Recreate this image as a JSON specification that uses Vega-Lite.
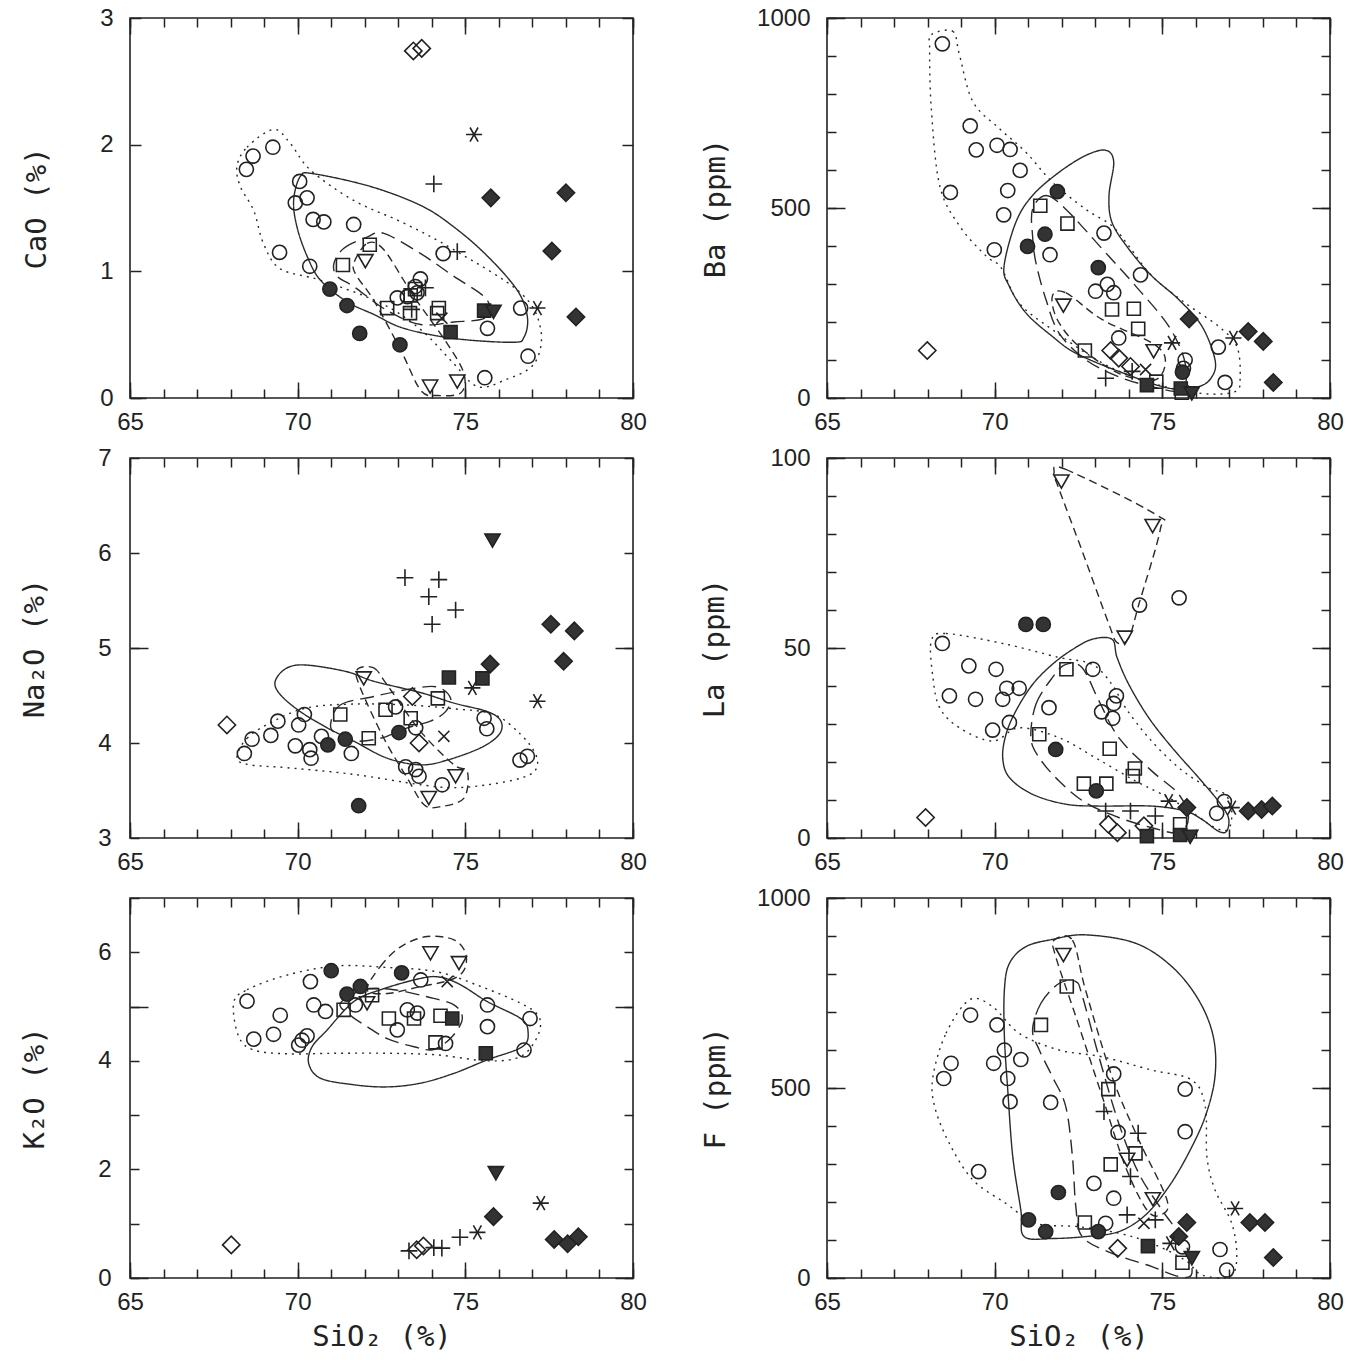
{
"$schema": "https://vega.github.io/schema/vega-lite/v6.json",
"background": "white",
"padding": {"left": 19, "top": 5, "right": 5, "bottom": 5},
"datasets": {
"pts": [
{"p":"CaO","s":"od","x":73.45,"y":2.74},{"p":"CaO","s":"od","x":73.7,"y":2.76},
{"p":"CaO","s":"as","x":75.26,"y":2.08},{"p":"CaO","s":"as","x":77.15,"y":0.71},
{"p":"CaO","s":"pl","x":74.06,"y":1.69},{"p":"CaO","s":"pl","x":74.76,"y":1.155},{"p":"CaO","s":"pl","x":73.81,"y":0.87},{"p":"CaO","s":"pl","x":73.4,"y":0.7},
{"p":"CaO","s":"fd","x":75.76,"y":1.58},{"p":"CaO","s":"fd","x":78.0,"y":1.62},{"p":"CaO","s":"fd","x":77.58,"y":1.16},{"p":"CaO","s":"fd","x":78.3,"y":0.64},
{"p":"CaO","s":"oc","x":68.47,"y":1.805},{"p":"CaO","s":"oc","x":68.67,"y":1.91},{"p":"CaO","s":"oc","x":69.26,"y":1.98},{"p":"CaO","s":"oc","x":70.06,"y":1.71},{"p":"CaO","s":"oc","x":70.28,"y":1.58},{"p":"CaO","s":"oc","x":69.93,"y":1.54},{"p":"CaO","s":"oc","x":70.46,"y":1.41},{"p":"CaO","s":"oc","x":70.78,"y":1.39},{"p":"CaO","s":"oc","x":71.67,"y":1.37},{"p":"CaO","s":"oc","x":69.46,"y":1.15},{"p":"CaO","s":"oc","x":70.36,"y":1.04},{"p":"CaO","s":"oc","x":74.34,"y":1.14},{"p":"CaO","s":"oc","x":73.66,"y":0.94},{"p":"CaO","s":"oc","x":73.51,"y":0.88},{"p":"CaO","s":"oc","x":72.97,"y":0.79},{"p":"CaO","s":"oc","x":73.27,"y":0.8},{"p":"CaO","s":"oc","x":73.56,"y":0.83},{"p":"CaO","s":"oc","x":75.66,"y":0.55},{"p":"CaO","s":"oc","x":76.65,"y":0.71},{"p":"CaO","s":"oc","x":76.87,"y":0.33},{"p":"CaO","s":"oc","x":75.58,"y":0.16},
{"p":"CaO","s":"fc","x":70.96,"y":0.86},{"p":"CaO","s":"fc","x":71.47,"y":0.73},{"p":"CaO","s":"fc","x":71.85,"y":0.51},{"p":"CaO","s":"fc","x":73.05,"y":0.42},
{"p":"CaO","s":"os","x":72.15,"y":1.21},{"p":"CaO","s":"os","x":71.35,"y":1.05},{"p":"CaO","s":"os","x":72.67,"y":0.71},{"p":"CaO","s":"os","x":73.35,"y":0.67},{"p":"CaO","s":"os","x":73.37,"y":0.81},{"p":"CaO","s":"os","x":74.21,"y":0.71},{"p":"CaO","s":"os","x":74.16,"y":0.67},{"p":"CaO","s":"os","x":73.5,"y":0.86},
{"p":"CaO","s":"fs","x":74.56,"y":0.52},{"p":"CaO","s":"fs","x":75.56,"y":0.69},
{"p":"CaO","s":"ft","x":75.84,"y":0.68},
{"p":"CaO","s":"ot","x":72.02,"y":1.08},{"p":"CaO","s":"ot","x":73.95,"y":0.09},{"p":"CaO","s":"ot","x":74.76,"y":0.13},
{"p":"CaO","s":"xx","x":74.3,"y":0.63},

{"p":"Ba","s":"oc","x":68.44,"y":932},{"p":"Ba","s":"oc","x":69.27,"y":716},{"p":"Ba","s":"oc","x":69.45,"y":653},{"p":"Ba","s":"oc","x":70.07,"y":665},{"p":"Ba","s":"oc","x":70.46,"y":654},{"p":"Ba","s":"oc","x":70.76,"y":599},{"p":"Ba","s":"oc","x":68.68,"y":541},{"p":"Ba","s":"oc","x":70.39,"y":546},{"p":"Ba","s":"oc","x":70.27,"y":482},{"p":"Ba","s":"oc","x":69.99,"y":390},{"p":"Ba","s":"oc","x":71.65,"y":377},{"p":"Ba","s":"oc","x":73.26,"y":434},{"p":"Ba","s":"oc","x":73.01,"y":281},{"p":"Ba","s":"oc","x":73.36,"y":299},{"p":"Ba","s":"oc","x":73.55,"y":277},{"p":"Ba","s":"oc","x":74.35,"y":324},{"p":"Ba","s":"oc","x":73.7,"y":158},{"p":"Ba","s":"oc","x":75.68,"y":100},{"p":"Ba","s":"oc","x":75.63,"y":78},{"p":"Ba","s":"oc","x":76.67,"y":134},{"p":"Ba","s":"oc","x":76.87,"y":41},
{"p":"Ba","s":"fc","x":71.87,"y":543},{"p":"Ba","s":"fc","x":71.5,"y":431},{"p":"Ba","s":"fc","x":70.98,"y":399},{"p":"Ba","s":"fc","x":73.09,"y":343},{"p":"Ba","s":"fc","x":75.6,"y":68},
{"p":"Ba","s":"os","x":71.36,"y":506},{"p":"Ba","s":"os","x":72.17,"y":459},{"p":"Ba","s":"os","x":73.5,"y":233},{"p":"Ba","s":"os","x":74.15,"y":235},{"p":"Ba","s":"os","x":74.28,"y":182},{"p":"Ba","s":"os","x":72.69,"y":125},{"p":"Ba","s":"os","x":74.82,"y":43},{"p":"Ba","s":"os","x":75.58,"y":14},
{"p":"Ba","s":"fs","x":74.54,"y":34},{"p":"Ba","s":"fs","x":75.55,"y":25},
{"p":"Ba","s":"ft","x":75.88,"y":12},
{"p":"Ba","s":"ot","x":72.05,"y":243},{"p":"Ba","s":"ot","x":74.74,"y":123},
{"p":"Ba","s":"od","x":67.99,"y":125},{"p":"Ba","s":"od","x":73.46,"y":125},{"p":"Ba","s":"od","x":73.7,"y":105},{"p":"Ba","s":"od","x":74.05,"y":83},
{"p":"Ba","s":"pl","x":73.31,"y":52},{"p":"Ba","s":"pl","x":74.1,"y":70},
{"p":"Ba","s":"as","x":75.29,"y":145},{"p":"Ba","s":"as","x":77.12,"y":158},
{"p":"Ba","s":"xx","x":74.5,"y":75},
{"p":"Ba","s":"fd","x":75.8,"y":208},{"p":"Ba","s":"fd","x":77.56,"y":175},{"p":"Ba","s":"fd","x":78.01,"y":149},{"p":"Ba","s":"fd","x":78.31,"y":41},

{"p":"Na","s":"ft","x":75.81,"y":6.13},
{"p":"Na","s":"pl","x":73.2,"y":5.74},{"p":"Na","s":"pl","x":74.21,"y":5.72},{"p":"Na","s":"pl","x":73.91,"y":5.54},{"p":"Na","s":"pl","x":74.71,"y":5.4},{"p":"Na","s":"pl","x":74.01,"y":5.25},
{"p":"Na","s":"fd","x":77.55,"y":5.25},{"p":"Na","s":"fd","x":78.25,"y":5.18},{"p":"Na","s":"fd","x":77.93,"y":4.86},{"p":"Na","s":"fd","x":75.74,"y":4.83},
{"p":"Na","s":"fs","x":74.51,"y":4.69},{"p":"Na","s":"fs","x":75.51,"y":4.68},
{"p":"Na","s":"as","x":75.21,"y":4.58},{"p":"Na","s":"as","x":77.15,"y":4.44},
{"p":"Na","s":"ot","x":71.97,"y":4.68},{"p":"Na","s":"ot","x":74.71,"y":3.65},{"p":"Na","s":"ot","x":73.91,"y":3.42},
{"p":"Na","s":"od","x":67.89,"y":4.19},{"p":"Na","s":"od","x":73.42,"y":4.49},{"p":"Na","s":"od","x":73.62,"y":4.0},
{"p":"Na","s":"os","x":74.18,"y":4.47},{"p":"Na","s":"os","x":71.27,"y":4.3},{"p":"Na","s":"os","x":72.62,"y":4.35},{"p":"Na","s":"os","x":73.37,"y":4.26},{"p":"Na","s":"os","x":72.12,"y":4.05},
{"p":"Na","s":"xx","x":74.36,"y":4.07},
{"p":"Na","s":"oc","x":68.41,"y":3.89},{"p":"Na","s":"oc","x":68.64,"y":4.04},{"p":"Na","s":"oc","x":69.2,"y":4.08},{"p":"Na","s":"oc","x":69.41,"y":4.23},{"p":"Na","s":"oc","x":70.03,"y":4.19},{"p":"Na","s":"oc","x":70.2,"y":4.3},{"p":"Na","s":"oc","x":69.93,"y":3.97},{"p":"Na","s":"oc","x":70.36,"y":3.93},{"p":"Na","s":"oc","x":70.4,"y":3.84},{"p":"Na","s":"oc","x":70.71,"y":4.07},{"p":"Na","s":"oc","x":71.6,"y":3.89},{"p":"Na","s":"oc","x":72.92,"y":4.38},{"p":"Na","s":"oc","x":73.52,"y":4.16},{"p":"Na","s":"oc","x":73.22,"y":3.75},{"p":"Na","s":"oc","x":73.52,"y":3.72},{"p":"Na","s":"oc","x":73.62,"y":3.65},{"p":"Na","s":"oc","x":74.31,"y":3.56},{"p":"Na","s":"oc","x":75.56,"y":4.26},{"p":"Na","s":"oc","x":75.64,"y":4.15},{"p":"Na","s":"oc","x":76.63,"y":3.82},{"p":"Na","s":"oc","x":76.85,"y":3.86},
{"p":"Na","s":"fc","x":70.9,"y":3.98},{"p":"Na","s":"fc","x":71.42,"y":4.04},{"p":"Na","s":"fc","x":73.02,"y":4.11},{"p":"Na","s":"fc","x":71.82,"y":3.34},

{"p":"La","s":"ot","x":71.99,"y":93.8},{"p":"La","s":"ot","x":74.71,"y":82.1},{"p":"La","s":"ot","x":73.88,"y":52.7},
{"p":"La","s":"oc","x":74.32,"y":61.3},{"p":"La","s":"oc","x":75.5,"y":63.2},{"p":"La","s":"oc","x":68.44,"y":51.2},{"p":"La","s":"oc","x":69.23,"y":45.3},{"p":"La","s":"oc","x":70.04,"y":44.4},{"p":"La","s":"oc","x":70.36,"y":39.4},{"p":"La","s":"oc","x":70.73,"y":39.4},{"p":"La","s":"oc","x":68.65,"y":37.4},{"p":"La","s":"oc","x":69.43,"y":36.5},{"p":"La","s":"oc","x":70.24,"y":36.5},{"p":"La","s":"oc","x":69.94,"y":28.4},{"p":"La","s":"oc","x":70.44,"y":30.4},{"p":"La","s":"oc","x":71.62,"y":34.3},{"p":"La","s":"oc","x":72.93,"y":44.4},{"p":"La","s":"oc","x":73.63,"y":37.4},{"p":"La","s":"oc","x":73.55,"y":35.4},{"p":"La","s":"oc","x":73.19,"y":33.2},{"p":"La","s":"oc","x":73.52,"y":31.5},{"p":"La","s":"oc","x":76.85,"y":9.6},{"p":"La","s":"oc","x":76.62,"y":6.5},
{"p":"La","s":"fc","x":70.93,"y":56.2},{"p":"La","s":"fc","x":71.45,"y":56.2},{"p":"La","s":"fc","x":71.82,"y":23.3},{"p":"La","s":"fc","x":73.03,"y":12.4},
{"p":"La","s":"os","x":72.14,"y":44.4},{"p":"La","s":"os","x":71.33,"y":27.3},{"p":"La","s":"os","x":73.43,"y":23.5},{"p":"La","s":"os","x":74.18,"y":18.3},{"p":"La","s":"os","x":74.12,"y":16.3},{"p":"La","s":"os","x":72.66,"y":14.3},{"p":"La","s":"os","x":73.33,"y":14.3},{"p":"La","s":"os","x":75.53,"y":3.6},
{"p":"La","s":"fs","x":74.54,"y":0.5},{"p":"La","s":"fs","x":75.53,"y":0.8},
{"p":"La","s":"ft","x":75.83,"y":0.3},
{"p":"La","s":"od","x":67.94,"y":5.4},{"p":"La","s":"od","x":73.39,"y":3.6},{"p":"La","s":"od","x":73.66,"y":1.4},{"p":"La","s":"od","x":74.45,"y":3.2},
{"p":"La","s":"pl","x":73.31,"y":7.1},{"p":"La","s":"pl","x":74.05,"y":7.1},{"p":"La","s":"pl","x":74.79,"y":5.8},
{"p":"La","s":"as","x":75.19,"y":9.7},{"p":"La","s":"as","x":77.07,"y":8.0},
{"p":"La","s":"fd","x":75.73,"y":8.0},{"p":"La","s":"fd","x":77.56,"y":7.1},{"p":"La","s":"fd","x":77.96,"y":7.5},{"p":"La","s":"fd","x":78.28,"y":8.4},

{"p":"K","s":"ot","x":73.96,"y":5.98},{"p":"K","s":"ot","x":74.81,"y":5.8},{"p":"K","s":"ot","x":72.07,"y":5.06},
{"p":"K","s":"fc","x":71.0,"y":5.66},{"p":"K","s":"fc","x":73.1,"y":5.62},{"p":"K","s":"fc","x":71.87,"y":5.37},{"p":"K","s":"fc","x":71.47,"y":5.23},
{"p":"K","s":"xx","x":74.46,"y":5.46},
{"p":"K","s":"oc","x":70.38,"y":5.46},{"p":"K","s":"oc","x":68.49,"y":5.1},{"p":"K","s":"oc","x":70.48,"y":5.03},{"p":"K","s":"oc","x":70.83,"y":4.91},{"p":"K","s":"oc","x":71.72,"y":5.03},{"p":"K","s":"oc","x":69.48,"y":4.84},{"p":"K","s":"oc","x":68.69,"y":4.4},{"p":"K","s":"oc","x":69.28,"y":4.49},{"p":"K","s":"oc","x":70.28,"y":4.46},{"p":"K","s":"oc","x":70.13,"y":4.38},{"p":"K","s":"oc","x":70.03,"y":4.29},{"p":"K","s":"oc","x":73.67,"y":5.49},{"p":"K","s":"oc","x":72.97,"y":4.57},{"p":"K","s":"oc","x":73.27,"y":4.94},{"p":"K","s":"oc","x":73.57,"y":4.88},{"p":"K","s":"oc","x":75.66,"y":5.03},{"p":"K","s":"oc","x":75.66,"y":4.63},{"p":"K","s":"oc","x":76.93,"y":4.78},{"p":"K","s":"oc","x":76.75,"y":4.2},{"p":"K","s":"oc","x":74.41,"y":4.32},
{"p":"K","s":"os","x":72.22,"y":5.21},{"p":"K","s":"os","x":71.37,"y":4.94},{"p":"K","s":"os","x":72.72,"y":4.78},{"p":"K","s":"os","x":73.47,"y":4.78},{"p":"K","s":"os","x":74.26,"y":4.83},{"p":"K","s":"os","x":74.11,"y":4.34},
{"p":"K","s":"fs","x":74.61,"y":4.78},{"p":"K","s":"fs","x":75.61,"y":4.14},
{"p":"K","s":"ft","x":75.91,"y":1.93},
{"p":"K","s":"as","x":77.25,"y":1.38},{"p":"K","s":"as","x":75.36,"y":0.84},
{"p":"K","s":"fd","x":75.84,"y":1.13},{"p":"K","s":"fd","x":77.65,"y":0.71},{"p":"K","s":"fd","x":78.05,"y":0.63},{"p":"K","s":"fd","x":78.37,"y":0.76},
{"p":"K","s":"pl","x":74.84,"y":0.75},{"p":"K","s":"pl","x":74.06,"y":0.56},{"p":"K","s":"pl","x":74.3,"y":0.55},{"p":"K","s":"pl","x":73.32,"y":0.5},
{"p":"K","s":"od","x":73.75,"y":0.59},{"p":"K","s":"od","x":73.55,"y":0.52},{"p":"K","s":"od","x":68.02,"y":0.61},

{"p":"F","s":"ot","x":72.05,"y":850},{"p":"F","s":"ot","x":73.95,"y":311},{"p":"F","s":"ot","x":74.72,"y":207},
{"p":"F","s":"os","x":72.15,"y":767},{"p":"F","s":"os","x":71.38,"y":666},{"p":"F","s":"os","x":73.39,"y":497},{"p":"F","s":"os","x":74.2,"y":328},{"p":"F","s":"os","x":73.46,"y":299},{"p":"F","s":"os","x":72.69,"y":146},{"p":"F","s":"os","x":75.6,"y":40},
{"p":"F","s":"oc","x":69.28,"y":692},{"p":"F","s":"oc","x":70.07,"y":666},{"p":"F","s":"oc","x":70.29,"y":600},{"p":"F","s":"oc","x":69.97,"y":565},{"p":"F","s":"oc","x":70.78,"y":575},{"p":"F","s":"oc","x":68.7,"y":565},{"p":"F","s":"oc","x":68.48,"y":525},{"p":"F","s":"oc","x":70.39,"y":525},{"p":"F","s":"oc","x":70.46,"y":464},{"p":"F","s":"oc","x":71.67,"y":462},{"p":"F","s":"oc","x":73.55,"y":537},{"p":"F","s":"oc","x":75.68,"y":497},{"p":"F","s":"oc","x":75.68,"y":385},{"p":"F","s":"oc","x":73.68,"y":383},{"p":"F","s":"oc","x":69.52,"y":280},{"p":"F","s":"oc","x":72.96,"y":249},{"p":"F","s":"oc","x":73.55,"y":210},{"p":"F","s":"oc","x":73.31,"y":144},{"p":"F","s":"oc","x":75.6,"y":82},{"p":"F","s":"oc","x":76.72,"y":75},{"p":"F","s":"oc","x":76.92,"y":21},
{"p":"F","s":"pl","x":73.26,"y":438},{"p":"F","s":"pl","x":74.28,"y":381},{"p":"F","s":"pl","x":74.05,"y":267},{"p":"F","s":"pl","x":73.95,"y":166},{"p":"F","s":"pl","x":74.79,"y":153},
{"p":"F","s":"xx","x":74.45,"y":144},
{"p":"F","s":"as","x":75.24,"y":91},{"p":"F","s":"as","x":77.17,"y":183},
{"p":"F","s":"fc","x":71.9,"y":225},{"p":"F","s":"fc","x":71.01,"y":153},{"p":"F","s":"fc","x":71.52,"y":122},{"p":"F","s":"fc","x":73.09,"y":122},
{"p":"F","s":"od","x":73.67,"y":78},
{"p":"F","s":"fs","x":74.57,"y":84},
{"p":"F","s":"fd","x":75.73,"y":146},{"p":"F","s":"fd","x":75.49,"y":109},{"p":"F","s":"fd","x":77.61,"y":146},{"p":"F","s":"fd","x":78.06,"y":146},{"p":"F","s":"fd","x":78.31,"y":54},
{"p":"F","s":"ft","x":75.88,"y":52}
],
"env": [
{"p":"CaO","e":"dot","o":1,"x":68.19,"y":1.83},{"p":"CaO","e":"dot","o":2,"x":68.49,"y":1.98},{"p":"CaO","e":"dot","o":3,"x":69.28,"y":2.12},{"p":"CaO","e":"dot","o":4,"x":69.78,"y":2.01},{"p":"CaO","e":"dot","o":5,"x":70.38,"y":1.8},{"p":"CaO","e":"dot","o":6,"x":71.67,"y":1.56},{"p":"CaO","e":"dot","o":7,"x":73.17,"y":1.38},{"p":"CaO","e":"dot","o":8,"x":74.66,"y":1.17},{"p":"CaO","e":"dot","o":9,"x":76.65,"y":0.83},{"p":"CaO","e":"dot","o":10,"x":77.25,"y":0.54},{"p":"CaO","e":"dot","o":11,"x":77.05,"y":0.27},{"p":"CaO","e":"dot","o":12,"x":76.16,"y":0.14},{"p":"CaO","e":"dot","o":13,"x":75.36,"y":0.09},{"p":"CaO","e":"dot","o":14,"x":74.66,"y":0.27},{"p":"CaO","e":"dot","o":15,"x":73.67,"y":0.54},{"p":"CaO","e":"dot","o":16,"x":72.47,"y":0.75},{"p":"CaO","e":"dot","o":17,"x":70.68,"y":0.93},{"p":"CaO","e":"dot","o":18,"x":69.48,"y":1.02},{"p":"CaO","e":"dot","o":19,"x":68.98,"y":1.22},{"p":"CaO","e":"dot","o":20,"x":68.69,"y":1.48},{"p":"CaO","e":"dot","o":21,"x":68.29,"y":1.67},
{"p":"CaO","e":"sol","o":1,"x":70.08,"y":1.75},{"p":"CaO","e":"sol","o":2,"x":70.48,"y":1.77},{"p":"CaO","e":"sol","o":3,"x":72.17,"y":1.67},{"p":"CaO","e":"sol","o":4,"x":73.67,"y":1.52},{"p":"CaO","e":"sol","o":5,"x":74.66,"y":1.35},{"p":"CaO","e":"sol","o":6,"x":75.66,"y":1.12},{"p":"CaO","e":"sol","o":7,"x":76.55,"y":0.85},{"p":"CaO","e":"sol","o":8,"x":76.85,"y":0.64},{"p":"CaO","e":"sol","o":9,"x":76.75,"y":0.48},{"p":"CaO","e":"sol","o":10,"x":76.4,"y":0.44},{"p":"CaO","e":"sol","o":11,"x":74.66,"y":0.47},{"p":"CaO","e":"sol","o":12,"x":73.17,"y":0.55},{"p":"CaO","e":"sol","o":13,"x":72.27,"y":0.66},{"p":"CaO","e":"sol","o":14,"x":71.47,"y":0.76},{"p":"CaO","e":"sol","o":15,"x":70.68,"y":0.93},{"p":"CaO","e":"sol","o":16,"x":70.28,"y":1.12},{"p":"CaO","e":"sol","o":17,"x":69.98,"y":1.35},{"p":"CaO","e":"sol","o":18,"x":69.88,"y":1.56},
{"p":"CaO","e":"dsh","o":1,"x":71.08,"y":1.06},{"p":"CaO","e":"dsh","o":2,"x":71.37,"y":1.18},{"p":"CaO","e":"dsh","o":3,"x":72.07,"y":1.27},{"p":"CaO","e":"dsh","o":4,"x":72.57,"y":1.3},{"p":"CaO","e":"dsh","o":5,"x":73.67,"y":1.14},{"p":"CaO","e":"dsh","o":6,"x":74.66,"y":0.96},{"p":"CaO","e":"dsh","o":7,"x":75.56,"y":0.8},{"p":"CaO","e":"dsh","o":8,"x":75.76,"y":0.68},{"p":"CaO","e":"dsh","o":9,"x":75.46,"y":0.62},{"p":"CaO","e":"dsh","o":10,"x":74.66,"y":0.6},{"p":"CaO","e":"dsh","o":11,"x":73.67,"y":0.58},{"p":"CaO","e":"dsh","o":12,"x":72.67,"y":0.69},{"p":"CaO","e":"dsh","o":13,"x":71.67,"y":0.88},{"p":"CaO","e":"dsh","o":14,"x":71.18,"y":0.96},
{"p":"CaO","e":"tri","o":1,"x":71.67,"y":1.06},{"p":"CaO","e":"tri","o":2,"x":72.07,"y":1.22},{"p":"CaO","e":"tri","o":3,"x":72.57,"y":1.17},{"p":"CaO","e":"tri","o":4,"x":73.47,"y":0.8},{"p":"CaO","e":"tri","o":5,"x":74.46,"y":0.43},{"p":"CaO","e":"tri","o":6,"x":74.96,"y":0.19},{"p":"CaO","e":"tri","o":7,"x":74.86,"y":0.04},{"p":"CaO","e":"tri","o":8,"x":74.16,"y":0.02},{"p":"CaO","e":"tri","o":9,"x":73.67,"y":0.06},{"p":"CaO","e":"tri","o":10,"x":73.07,"y":0.38},{"p":"CaO","e":"tri","o":11,"x":72.27,"y":0.77},{"p":"CaO","e":"tri","o":12,"x":71.77,"y":0.96},

{"p":"Ba","e":"dot","o":1,"x":68.11,"y":956},{"p":"Ba","e":"dot","o":2,"x":68.75,"y":965},{"p":"Ba","e":"dot","o":3,"x":68.95,"y":903},{"p":"Ba","e":"dot","o":4,"x":69.35,"y":780},{"p":"Ba","e":"dot","o":5,"x":70.14,"y":709},{"p":"Ba","e":"dot","o":6,"x":70.93,"y":647},{"p":"Ba","e":"dot","o":7,"x":71.72,"y":568},{"p":"Ba","e":"dot","o":8,"x":72.71,"y":497},{"p":"Ba","e":"dot","o":9,"x":73.5,"y":453},{"p":"Ba","e":"dot","o":10,"x":74.0,"y":400},{"p":"Ba","e":"dot","o":11,"x":74.69,"y":321},{"p":"Ba","e":"dot","o":12,"x":75.68,"y":250},{"p":"Ba","e":"dot","o":13,"x":76.67,"y":189},{"p":"Ba","e":"dot","o":14,"x":77.22,"y":136},{"p":"Ba","e":"dot","o":15,"x":77.32,"y":56},{"p":"Ba","e":"dot","o":16,"x":77.17,"y":17},{"p":"Ba","e":"dot","o":17,"x":76.18,"y":12},{"p":"Ba","e":"dot","o":18,"x":74.69,"y":39},{"p":"Ba","e":"dot","o":19,"x":73.21,"y":92},{"p":"Ba","e":"dot","o":20,"x":71.72,"y":180},{"p":"Ba","e":"dot","o":21,"x":70.73,"y":250},{"p":"Ba","e":"dot","o":22,"x":70.19,"y":343},{"p":"Ba","e":"dot","o":23,"x":69.74,"y":374},{"p":"Ba","e":"dot","o":24,"x":68.95,"y":453},{"p":"Ba","e":"dot","o":25,"x":68.36,"y":559},{"p":"Ba","e":"dot","o":26,"x":68.11,"y":762},{"p":"Ba","e":"dot","o":27,"x":68.06,"y":921},
{"p":"Ba","e":"sol","o":1,"x":70.63,"y":462},{"p":"Ba","e":"sol","o":2,"x":71.13,"y":533},{"p":"Ba","e":"sol","o":3,"x":71.92,"y":594},{"p":"Ba","e":"sol","o":4,"x":72.71,"y":638},{"p":"Ba","e":"sol","o":5,"x":73.31,"y":652},{"p":"Ba","e":"sol","o":6,"x":73.55,"y":621},{"p":"Ba","e":"sol","o":7,"x":73.41,"y":533},{"p":"Ba","e":"sol","o":8,"x":73.5,"y":462},{"p":"Ba","e":"sol","o":9,"x":74.0,"y":392},{"p":"Ba","e":"sol","o":10,"x":74.69,"y":321},{"p":"Ba","e":"sol","o":11,"x":75.49,"y":259},{"p":"Ba","e":"sol","o":12,"x":76.18,"y":189},{"p":"Ba","e":"sol","o":13,"x":76.57,"y":101},{"p":"Ba","e":"sol","o":14,"x":76.48,"y":56},{"p":"Ba","e":"sol","o":15,"x":76.08,"y":30},{"p":"Ba","e":"sol","o":16,"x":75.19,"y":26},{"p":"Ba","e":"sol","o":17,"x":73.7,"y":70},{"p":"Ba","e":"sol","o":18,"x":72.42,"y":118},{"p":"Ba","e":"sol","o":19,"x":71.72,"y":162},{"p":"Ba","e":"sol","o":20,"x":70.93,"y":224},{"p":"Ba","e":"sol","o":21,"x":70.43,"y":295},{"p":"Ba","e":"sol","o":22,"x":70.28,"y":347},
{"p":"Ba","e":"dsh","o":1,"x":71.13,"y":497},{"p":"Ba","e":"dsh","o":2,"x":71.53,"y":533},{"p":"Ba","e":"dsh","o":3,"x":72.12,"y":497},{"p":"Ba","e":"dsh","o":4,"x":73.21,"y":392},{"p":"Ba","e":"dsh","o":5,"x":74.2,"y":295},{"p":"Ba","e":"dsh","o":6,"x":75.19,"y":189},{"p":"Ba","e":"dsh","o":7,"x":75.68,"y":92},{"p":"Ba","e":"dsh","o":8,"x":75.58,"y":21},{"p":"Ba","e":"dsh","o":9,"x":74.69,"y":30},{"p":"Ba","e":"dsh","o":10,"x":73.7,"y":56},{"p":"Ba","e":"dsh","o":11,"x":72.71,"y":101},{"p":"Ba","e":"dsh","o":12,"x":71.92,"y":171},{"p":"Ba","e":"dsh","o":13,"x":71.53,"y":259},{"p":"Ba","e":"dsh","o":14,"x":71.23,"y":356},{"p":"Ba","e":"dsh","o":15,"x":71.13,"y":427},
{"p":"Ba","e":"tri","o":1,"x":71.72,"y":268},{"p":"Ba","e":"tri","o":2,"x":72.12,"y":277},{"p":"Ba","e":"tri","o":3,"x":73.21,"y":206},{"p":"Ba","e":"tri","o":4,"x":74.69,"y":145},{"p":"Ba","e":"tri","o":5,"x":75.09,"y":101},{"p":"Ba","e":"tri","o":6,"x":74.79,"y":48},{"p":"Ba","e":"tri","o":7,"x":73.7,"y":65},{"p":"Ba","e":"tri","o":8,"x":72.51,"y":136},{"p":"Ba","e":"tri","o":9,"x":71.87,"y":206},

{"p":"Na","e":"dot","o":1,"x":68.19,"y":3.84},{"p":"Na","e":"dot","o":2,"x":68.49,"y":4.05},{"p":"Na","e":"dot","o":3,"x":69.28,"y":4.23},{"p":"Na","e":"dot","o":4,"x":70.28,"y":4.37},{"p":"Na","e":"dot","o":5,"x":71.67,"y":4.41},{"p":"Na","e":"dot","o":6,"x":73.27,"y":4.4},{"p":"Na","e":"dot","o":7,"x":74.66,"y":4.36},{"p":"Na","e":"dot","o":8,"x":75.86,"y":4.3},{"p":"Na","e":"dot","o":9,"x":76.65,"y":4.09},{"p":"Na","e":"dot","o":10,"x":77.1,"y":3.88},{"p":"Na","e":"dot","o":11,"x":77.1,"y":3.72},{"p":"Na","e":"dot","o":12,"x":76.65,"y":3.63},{"p":"Na","e":"dot","o":13,"x":75.66,"y":3.56},{"p":"Na","e":"dot","o":14,"x":74.66,"y":3.53},{"p":"Na","e":"dot","o":15,"x":73.67,"y":3.56},{"p":"Na","e":"dot","o":16,"x":71.67,"y":3.67},{"p":"Na","e":"dot","o":17,"x":69.68,"y":3.74},{"p":"Na","e":"dot","o":18,"x":68.59,"y":3.77},
{"p":"Na","e":"sol","o":1,"x":69.33,"y":4.65},{"p":"Na","e":"sol","o":2,"x":69.68,"y":4.79},{"p":"Na","e":"sol","o":3,"x":70.28,"y":4.82},{"p":"Na","e":"sol","o":4,"x":71.47,"y":4.75},{"p":"Na","e":"sol","o":5,"x":72.27,"y":4.65},{"p":"Na","e":"sol","o":6,"x":73.67,"y":4.53},{"p":"Na","e":"sol","o":7,"x":74.66,"y":4.42},{"p":"Na","e":"sol","o":8,"x":75.66,"y":4.33},{"p":"Na","e":"sol","o":9,"x":76.06,"y":4.23},{"p":"Na","e":"sol","o":10,"x":76.01,"y":4.09},{"p":"Na","e":"sol","o":11,"x":75.46,"y":3.95},{"p":"Na","e":"sol","o":12,"x":74.46,"y":3.82},{"p":"Na","e":"sol","o":13,"x":73.67,"y":3.77},{"p":"Na","e":"sol","o":14,"x":72.67,"y":3.84},{"p":"Na","e":"sol","o":15,"x":71.67,"y":4.02},{"p":"Na","e":"sol","o":16,"x":70.88,"y":4.16},{"p":"Na","e":"sol","o":17,"x":70.08,"y":4.33},{"p":"Na","e":"sol","o":18,"x":69.48,"y":4.51},
{"p":"Na","e":"dsh","o":1,"x":70.98,"y":4.19},{"p":"Na","e":"dsh","o":2,"x":71.27,"y":4.4},{"p":"Na","e":"dsh","o":3,"x":72.27,"y":4.49},{"p":"Na","e":"dsh","o":4,"x":73.37,"y":4.57},{"p":"Na","e":"dsh","o":5,"x":74.16,"y":4.59},{"p":"Na","e":"dsh","o":6,"x":74.56,"y":4.47},{"p":"Na","e":"dsh","o":7,"x":74.41,"y":4.33},{"p":"Na","e":"dsh","o":8,"x":73.96,"y":4.23},{"p":"Na","e":"dsh","o":9,"x":73.27,"y":4.16},{"p":"Na","e":"dsh","o":10,"x":72.47,"y":4.05},{"p":"Na","e":"dsh","o":11,"x":71.67,"y":4.02},{"p":"Na","e":"dsh","o":12,"x":71.18,"y":4.09},
{"p":"Na","e":"tri","o":1,"x":71.77,"y":4.77},{"p":"Na","e":"tri","o":2,"x":72.27,"y":4.79},{"p":"Na","e":"tri","o":3,"x":72.67,"y":4.61},{"p":"Na","e":"tri","o":4,"x":73.67,"y":4.12},{"p":"Na","e":"tri","o":5,"x":74.66,"y":3.77},{"p":"Na","e":"tri","o":6,"x":75.06,"y":3.7},{"p":"Na","e":"tri","o":7,"x":74.96,"y":3.42},{"p":"Na","e":"tri","o":8,"x":74.26,"y":3.33},{"p":"Na","e":"tri","o":9,"x":73.77,"y":3.35},{"p":"Na","e":"tri","o":10,"x":73.27,"y":3.63},{"p":"Na","e":"tri","o":11,"x":72.57,"y":4.05},{"p":"Na","e":"tri","o":12,"x":71.87,"y":4.58},

{"p":"La","e":"dot","o":1,"x":68.11,"y":51.8},{"p":"La","e":"dot","o":2,"x":68.55,"y":53.8},{"p":"La","e":"dot","o":3,"x":70.34,"y":51.0},{"p":"La","e":"dot","o":4,"x":71.92,"y":47.5},{"p":"La","e":"dot","o":5,"x":72.91,"y":45.7},{"p":"La","e":"dot","o":6,"x":73.5,"y":40.4},{"p":"La","e":"dot","o":7,"x":73.9,"y":34.3},{"p":"La","e":"dot","o":8,"x":74.59,"y":26.4},{"p":"La","e":"dot","o":9,"x":75.49,"y":18.5},{"p":"La","e":"dot","o":10,"x":76.38,"y":13.2},{"p":"La","e":"dot","o":11,"x":76.87,"y":11.5},{"p":"La","e":"dot","o":12,"x":77.07,"y":7.1},{"p":"La","e":"dot","o":13,"x":76.97,"y":2.3},{"p":"La","e":"dot","o":14,"x":76.57,"y":2.7},{"p":"La","e":"dot","o":15,"x":75.98,"y":6.2},{"p":"La","e":"dot","o":16,"x":75.19,"y":10.6},{"p":"La","e":"dot","o":17,"x":74.2,"y":15.0},{"p":"La","e":"dot","o":18,"x":73.01,"y":21.1},{"p":"La","e":"dot","o":19,"x":71.92,"y":26.4},{"p":"La","e":"dot","o":20,"x":70.73,"y":29.0},{"p":"La","e":"dot","o":21,"x":69.94,"y":25.5},{"p":"La","e":"dot","o":22,"x":68.95,"y":29.0},{"p":"La","e":"dot","o":23,"x":68.36,"y":34.3},{"p":"La","e":"dot","o":24,"x":68.16,"y":42.2},
{"p":"La","e":"sol","o":1,"x":73.5,"y":52.3},{"p":"La","e":"sol","o":2,"x":72.91,"y":52.3},{"p":"La","e":"sol","o":3,"x":72.32,"y":49.6},{"p":"La","e":"sol","o":4,"x":71.72,"y":45.7},{"p":"La","e":"sol","o":5,"x":71.13,"y":40.4},{"p":"La","e":"sol","o":6,"x":70.63,"y":33.4},{"p":"La","e":"sol","o":7,"x":70.34,"y":27.3},{"p":"La","e":"sol","o":8,"x":70.24,"y":21.1},{"p":"La","e":"sol","o":9,"x":70.44,"y":15.9},{"p":"La","e":"sol","o":10,"x":71.13,"y":11.5},{"p":"La","e":"sol","o":11,"x":72.12,"y":8.9},{"p":"La","e":"sol","o":12,"x":73.11,"y":8.4},{"p":"La","e":"sol","o":13,"x":74.69,"y":8.4},{"p":"La","e":"sol","o":14,"x":75.68,"y":7.1},{"p":"La","e":"sol","o":15,"x":76.18,"y":4.9},{"p":"La","e":"sol","o":16,"x":76.67,"y":1.8},{"p":"La","e":"sol","o":17,"x":76.92,"y":1.8},{"p":"La","e":"sol","o":18,"x":76.97,"y":5.4},{"p":"La","e":"sol","o":19,"x":76.67,"y":9.7},{"p":"La","e":"sol","o":20,"x":76.08,"y":15.9},{"p":"La","e":"sol","o":21,"x":75.29,"y":23.8},{"p":"La","e":"sol","o":22,"x":74.59,"y":31.7},{"p":"La","e":"sol","o":23,"x":74.0,"y":40.4},{"p":"La","e":"sol","o":24,"x":73.65,"y":47.5},
{"p":"La","e":"dsh","o":1,"x":71.08,"y":26.4},{"p":"La","e":"dsh","o":2,"x":71.23,"y":35.2},{"p":"La","e":"dsh","o":3,"x":71.72,"y":42.2},{"p":"La","e":"dsh","o":4,"x":72.12,"y":45.7},{"p":"La","e":"dsh","o":5,"x":72.61,"y":44.8},{"p":"La","e":"dsh","o":6,"x":73.11,"y":36.1},{"p":"La","e":"dsh","o":7,"x":73.7,"y":26.4},{"p":"La","e":"dsh","o":8,"x":74.69,"y":17.6},{"p":"La","e":"dsh","o":9,"x":75.49,"y":11.5},{"p":"La","e":"dsh","o":10,"x":75.78,"y":5.4},{"p":"La","e":"dsh","o":11,"x":75.49,"y":1.4},{"p":"La","e":"dsh","o":12,"x":74.69,"y":2.7},{"p":"La","e":"dsh","o":13,"x":73.7,"y":5.4},{"p":"La","e":"dsh","o":14,"x":72.71,"y":9.3},{"p":"La","e":"dsh","o":15,"x":71.92,"y":15.0},{"p":"La","e":"dsh","o":16,"x":71.33,"y":21.1},
{"p":"La","e":"tri","o":1,"x":71.77,"y":96.1},{"p":"La","e":"tri","o":2,"x":72.12,"y":97.0},{"p":"La","e":"tri","o":3,"x":74.79,"y":85.2},{"p":"La","e":"tri","o":4,"x":74.94,"y":81.2},{"p":"La","e":"tri","o":5,"x":74.3,"y":61.5},{"p":"La","e":"tri","o":6,"x":74.0,"y":52.7},{"p":"La","e":"tri","o":7,"x":73.65,"y":51.4},{"p":"La","e":"tri","o":8,"x":73.41,"y":56.2},{"p":"La","e":"tri","o":9,"x":72.61,"y":75.5},{"p":"La","e":"tri","o":10,"x":71.92,"y":91.8},

{"p":"K","e":"dot","o":1,"x":68.09,"y":5.06},{"p":"K","e":"dot","o":2,"x":68.49,"y":5.31},{"p":"K","e":"dot","o":3,"x":69.68,"y":5.58},{"p":"K","e":"dot","o":4,"x":71.18,"y":5.75},{"p":"K","e":"dot","o":5,"x":72.67,"y":5.72},{"p":"K","e":"dot","o":6,"x":74.16,"y":5.64},{"p":"K","e":"dot","o":7,"x":75.46,"y":5.37},{"p":"K","e":"dot","o":8,"x":76.65,"y":5.06},{"p":"K","e":"dot","o":9,"x":77.2,"y":4.81},{"p":"K","e":"dot","o":10,"x":77.15,"y":4.45},{"p":"K","e":"dot","o":11,"x":76.65,"y":4.08},{"p":"K","e":"dot","o":12,"x":75.66,"y":4.0},{"p":"K","e":"dot","o":13,"x":74.16,"y":4.11},{"p":"K","e":"dot","o":14,"x":72.67,"y":4.14},{"p":"K","e":"dot","o":15,"x":71.18,"y":4.14},{"p":"K","e":"dot","o":16,"x":69.68,"y":4.13},{"p":"K","e":"dot","o":17,"x":68.69,"y":4.2},{"p":"K","e":"dot","o":18,"x":68.24,"y":4.45},
{"p":"K","e":"sol","o":1,"x":70.88,"y":4.57},{"p":"K","e":"sol","o":2,"x":71.67,"y":5.09},{"p":"K","e":"sol","o":3,"x":72.47,"y":5.31},{"p":"K","e":"sol","o":4,"x":73.67,"y":5.52},{"p":"K","e":"sol","o":5,"x":74.26,"y":5.54},{"p":"K","e":"sol","o":6,"x":74.86,"y":5.4},{"p":"K","e":"sol","o":7,"x":75.66,"y":5.09},{"p":"K","e":"sol","o":8,"x":76.65,"y":4.78},{"p":"K","e":"sol","o":9,"x":76.87,"y":4.54},{"p":"K","e":"sol","o":10,"x":76.7,"y":4.26},{"p":"K","e":"sol","o":11,"x":75.66,"y":4.02},{"p":"K","e":"sol","o":12,"x":74.66,"y":3.77},{"p":"K","e":"sol","o":13,"x":73.67,"y":3.59},{"p":"K","e":"sol","o":14,"x":72.67,"y":3.52},{"p":"K","e":"sol","o":15,"x":71.67,"y":3.56},{"p":"K","e":"sol","o":16,"x":70.68,"y":3.68},{"p":"K","e":"sol","o":17,"x":70.33,"y":3.95},{"p":"K","e":"sol","o":18,"x":70.43,"y":4.26},
{"p":"K","e":"dsh","o":1,"x":71.27,"y":5.06},{"p":"K","e":"dsh","o":2,"x":71.97,"y":5.31},{"p":"K","e":"dsh","o":3,"x":72.87,"y":5.31},{"p":"K","e":"dsh","o":4,"x":73.86,"y":5.18},{"p":"K","e":"dsh","o":5,"x":74.66,"y":5.03},{"p":"K","e":"dsh","o":6,"x":74.91,"y":4.78},{"p":"K","e":"dsh","o":7,"x":74.61,"y":4.45},{"p":"K","e":"dsh","o":8,"x":74.06,"y":4.21},{"p":"K","e":"dsh","o":9,"x":73.47,"y":4.26},{"p":"K","e":"dsh","o":10,"x":72.67,"y":4.41},{"p":"K","e":"dsh","o":11,"x":72.07,"y":4.63},{"p":"K","e":"dsh","o":12,"x":71.57,"y":4.84},
{"p":"K","e":"tri","o":1,"x":72.07,"y":5.31},{"p":"K","e":"tri","o":2,"x":72.47,"y":5.74},{"p":"K","e":"tri","o":3,"x":73.07,"y":6.1},{"p":"K","e":"tri","o":4,"x":73.86,"y":6.29},{"p":"K","e":"tri","o":5,"x":74.66,"y":6.23},{"p":"K","e":"tri","o":6,"x":75.01,"y":5.98},{"p":"K","e":"tri","o":7,"x":74.96,"y":5.67},{"p":"K","e":"tri","o":8,"x":74.56,"y":5.49},{"p":"K","e":"tri","o":9,"x":73.67,"y":5.37},{"p":"K","e":"tri","o":10,"x":72.67,"y":5.24},

{"p":"F","e":"sol","o":1,"x":70.29,"y":758},{"p":"F","e":"sol","o":2,"x":70.44,"y":828},{"p":"F","e":"sol","o":3,"x":70.93,"y":872},{"p":"F","e":"sol","o":4,"x":71.72,"y":891},{"p":"F","e":"sol","o":5,"x":72.71,"y":903},{"p":"F","e":"sol","o":6,"x":74.2,"y":881},{"p":"F","e":"sol","o":7,"x":75.29,"y":819},{"p":"F","e":"sol","o":8,"x":76.08,"y":732},{"p":"F","e":"sol","o":9,"x":76.52,"y":635},{"p":"F","e":"sol","o":10,"x":76.57,"y":530},{"p":"F","e":"sol","o":11,"x":76.28,"y":425},{"p":"F","e":"sol","o":12,"x":75.78,"y":328},{"p":"F","e":"sol","o":13,"x":75.19,"y":240},{"p":"F","e":"sol","o":14,"x":74.5,"y":166},{"p":"F","e":"sol","o":15,"x":73.7,"y":122},{"p":"F","e":"sol","o":16,"x":72.71,"y":109},{"p":"F","e":"sol","o":17,"x":71.72,"y":104},{"p":"F","e":"sol","o":18,"x":70.88,"y":109},{"p":"F","e":"sol","o":19,"x":70.78,"y":179},{"p":"F","e":"sol","o":20,"x":70.54,"y":319},{"p":"F","e":"sol","o":21,"x":70.39,"y":495},{"p":"F","e":"sol","o":22,"x":70.29,"y":635},
{"p":"F","e":"dot","o":1,"x":68.16,"y":530},{"p":"F","e":"dot","o":2,"x":68.55,"y":644},{"p":"F","e":"dot","o":3,"x":69.25,"y":732},{"p":"F","e":"dot","o":4,"x":69.94,"y":714},{"p":"F","e":"dot","o":5,"x":70.73,"y":644},{"p":"F","e":"dot","o":6,"x":71.92,"y":600},{"p":"F","e":"dot","o":7,"x":73.21,"y":582},{"p":"F","e":"dot","o":8,"x":74.69,"y":547},{"p":"F","e":"dot","o":9,"x":75.88,"y":521},{"p":"F","e":"dot","o":10,"x":76.28,"y":451},{"p":"F","e":"dot","o":11,"x":76.33,"y":319},{"p":"F","e":"dot","o":12,"x":76.57,"y":232},{"p":"F","e":"dot","o":13,"x":77.07,"y":144},{"p":"F","e":"dot","o":14,"x":77.22,"y":56},{"p":"F","e":"dot","o":15,"x":77.02,"y":4},{"p":"F","e":"dot","o":16,"x":76.18,"y":8},{"p":"F","e":"dot","o":17,"x":75.68,"y":47},{"p":"F","e":"dot","o":18,"x":74.69,"y":91},{"p":"F","e":"dot","o":19,"x":73.7,"y":118},{"p":"F","e":"dot","o":20,"x":72.51,"y":135},{"p":"F","e":"dot","o":21,"x":71.23,"y":144},{"p":"F","e":"dot","o":22,"x":70.34,"y":196},{"p":"F","e":"dot","o":23,"x":69.35,"y":258},{"p":"F","e":"dot","o":24,"x":68.65,"y":354},{"p":"F","e":"dot","o":25,"x":68.21,"y":451},
{"p":"F","e":"dsh","o":1,"x":71.13,"y":653},{"p":"F","e":"dsh","o":2,"x":71.38,"y":723},{"p":"F","e":"dsh","o":3,"x":71.92,"y":775},{"p":"F","e":"dsh","o":4,"x":72.42,"y":780},{"p":"F","e":"dsh","o":5,"x":72.62,"y":740},{"p":"F","e":"dsh","o":6,"x":73.11,"y":582},{"p":"F","e":"dsh","o":7,"x":73.7,"y":407},{"p":"F","e":"dsh","o":8,"x":74.3,"y":275},{"p":"F","e":"dsh","o":9,"x":74.99,"y":179},{"p":"F","e":"dsh","o":10,"x":75.68,"y":91},{"p":"F","e":"dsh","o":11,"x":75.88,"y":12},{"p":"F","e":"dsh","o":12,"x":75.49,"y":4},{"p":"F","e":"dsh","o":13,"x":74.69,"y":30},{"p":"F","e":"dsh","o":14,"x":73.5,"y":65},{"p":"F","e":"dsh","o":15,"x":72.61,"y":109},{"p":"F","e":"dsh","o":16,"x":72.42,"y":188},{"p":"F","e":"dsh","o":17,"x":72.32,"y":319},{"p":"F","e":"dsh","o":18,"x":72.12,"y":451},{"p":"F","e":"dsh","o":19,"x":71.72,"y":530},{"p":"F","e":"dsh","o":20,"x":71.33,"y":600},
{"p":"F","e":"tri","o":1,"x":71.77,"y":889},{"p":"F","e":"tri","o":2,"x":72.32,"y":889},{"p":"F","e":"tri","o":3,"x":72.71,"y":758},{"p":"F","e":"tri","o":4,"x":73.5,"y":530},{"p":"F","e":"tri","o":5,"x":74.3,"y":363},{"p":"F","e":"tri","o":6,"x":75.14,"y":205},{"p":"F","e":"tri","o":7,"x":74.94,"y":166},{"p":"F","e":"tri","o":8,"x":74.54,"y":179},{"p":"F","e":"tri","o":9,"x":73.9,"y":293},{"p":"F","e":"tri","o":10,"x":73.21,"y":477},{"p":"F","e":"tri","o":11,"x":72.42,"y":688},{"p":"F","e":"tri","o":12,"x":71.82,"y":846}
]
},
"columns": 2,
"spacing": {"row": 60, "column": 194},
"bounds": "flush",
"concat": [
{"width": 503, "height": 380, "resolve": {"axis": {"x": "independent", "y": "independent"}},
 "layer": [
  {"data": {"name": "env"}, "transform": [{"filter": "datum.p == 'CaO'"}],
   "mark": {"type": "line", "interpolate": "cardinal-closed", "color": "#2a2a2a", "strokeWidth": 1.4},
   "encoding": {
    "x": {"field": "x", "type": "quantitative", "scale": {"domain": [65, 80], "nice": false, "zero": false}, "axis": {"orient": "bottom", "values": [65,66,67,68,69,70,71,72,73,74,75,76,77,78,79,80], "tickSize": -9, "labelPadding": 21, "labelExpr": "datum.value % 5 == 0 ? datum.label : ''", "title": null}},
    "y": {"field": "y", "type": "quantitative", "scale": {"domain": [0, 3], "nice": false, "zero": false}, "axis": {"orient": "left", "values": [0,1,2,3], "format": "d", "tickSize": -11, "labelPadding": 28, "title": "CaO  (%)", "titlePadding": 48}},
    "strokeDash": {"field": "e", "type": "nominal", "scale": {"domain": ["dot","sol","dsh","tri"], "range": [[2,5],[1,0],[14,7],[8,5]]}, "legend": null},
    "order": {"field": "o", "type": "quantitative"}}},
  {"data": {"name": "pts"}, "transform": [{"filter": "datum.p == 'CaO' && indexof(['oc','os','od','ot'], datum.s) >= 0"}],
   "mark": {"type": "point", "stroke": "#222", "strokeWidth": 1.6, "opacity": 1},
   "encoding": {
    "x": {"field": "x", "type": "quantitative", "axis": {"orient": "bottom", "values": [65,70,75,80], "tickSize": -16, "labels": false, "title": null}},
    "y": {"field": "y", "type": "quantitative", "axis": {"orient": "left", "values": [0], "tickSize": -16, "labels": false, "title": null}},
    "shape": {"field": "s", "type": "nominal", "scale": {"domain": ["oc","fc","os","fs","od","fd","ot","ft","pl","xx","as"], "range": ["circle","circle","square","square","diamond","diamond","triangle-down","triangle-down","M-1,0L1,0M0,-1L0,1","M-0.75,-0.75L0.75,0.75M-0.75,0.75L0.75,-0.75","M-1,0L1,0M-0.5,-0.87L0.5,0.87M-0.5,0.87L0.5,-0.87"]}, "legend": null},
    "fill": {"field": "s", "type": "nominal", "scale": {"domain": ["oc","fc","os","fs","od","fd","ot","ft","pl","xx","as"], "range": ["transparent","#333","transparent","#333","transparent","#333","transparent","#333","transparent","transparent","transparent"]}, "legend": null},
    "size": {"field": "s", "type": "nominal", "scale": {"type": "ordinal", "domain": ["oc","fc","os","fs","od","fd","ot","ft","pl","xx","as"], "range": [200,200,170,170,300,300,230,230,280,220,260]}, "legend": null}}},
  {"data": {"name": "pts"}, "transform": [{"filter": "datum.p == 'CaO' && indexof(['fc','fs','fd','ft'], datum.s) >= 0"}],
   "mark": {"type": "point", "stroke": "#222", "strokeWidth": 1.6, "opacity": 1},
   "encoding": {
    "x": {"field": "x", "type": "quantitative", "axis": {"orient": "top", "values": [65,66,67,68,69,70,71,72,73,74,75,76,77,78,79,80], "tickSize": -9, "labels": false, "title": null}},
    "y": {"field": "y", "type": "quantitative", "axis": {"orient": "right", "values": [0,1,2,3], "tickSize": -11, "labels": false, "title": null}},
    "shape": {"field": "s", "type": "nominal", "scale": {"domain": ["oc","fc","os","fs","od","fd","ot","ft","pl","xx","as"], "range": ["circle","circle","square","square","diamond","diamond","triangle-down","triangle-down","M-1,0L1,0M0,-1L0,1","M-0.75,-0.75L0.75,0.75M-0.75,0.75L0.75,-0.75","M-1,0L1,0M-0.5,-0.87L0.5,0.87M-0.5,0.87L0.5,-0.87"]}, "legend": null},
    "fill": {"field": "s", "type": "nominal", "scale": {"domain": ["oc","fc","os","fs","od","fd","ot","ft","pl","xx","as"], "range": ["transparent","#333","transparent","#333","transparent","#333","transparent","#333","transparent","transparent","transparent"]}, "legend": null},
    "size": {"field": "s", "type": "nominal", "scale": {"type": "ordinal", "domain": ["oc","fc","os","fs","od","fd","ot","ft","pl","xx","as"], "range": [200,200,170,170,300,300,230,230,280,220,260]}, "legend": null}}},
  {"data": {"name": "pts"}, "transform": [{"filter": "datum.p == 'CaO' && indexof(['pl','xx','as'], datum.s) >= 0"}],
   "mark": {"type": "point", "stroke": "#222", "strokeWidth": 1.6, "opacity": 1},
   "encoding": {
    "x": {"field": "x", "type": "quantitative", "axis": {"orient": "top", "values": [65,70,75,80], "tickSize": -16, "labels": false, "title": null}},
    "y": {"field": "y", "type": "quantitative", "axis": {"orient": "right", "values": [0], "tickSize": -16, "labels": false, "title": null}},
    "shape": {"field": "s", "type": "nominal", "scale": {"domain": ["oc","fc","os","fs","od","fd","ot","ft","pl","xx","as"], "range": ["circle","circle","square","square","diamond","diamond","triangle-down","triangle-down","M-1,0L1,0M0,-1L0,1","M-0.75,-0.75L0.75,0.75M-0.75,0.75L0.75,-0.75","M-1,0L1,0M-0.5,-0.87L0.5,0.87M-0.5,0.87L0.5,-0.87"]}, "legend": null},
    "fill": {"field": "s", "type": "nominal", "scale": {"domain": ["oc","fc","os","fs","od","fd","ot","ft","pl","xx","as"], "range": ["transparent","#333","transparent","#333","transparent","#333","transparent","#333","transparent","transparent","transparent"]}, "legend": null},
    "size": {"field": "s", "type": "nominal", "scale": {"type": "ordinal", "domain": ["oc","fc","os","fs","od","fd","ot","ft","pl","xx","as"], "range": [200,200,170,170,300,300,230,230,280,220,260]}, "legend": null}}}
 ]},
{"width": 503, "height": 380, "resolve": {"axis": {"x": "independent", "y": "independent"}},
 "layer": [
  {"data": {"name": "env"}, "transform": [{"filter": "datum.p == 'Ba'"}],
   "mark": {"type": "line", "interpolate": "cardinal-closed", "color": "#2a2a2a", "strokeWidth": 1.4},
   "encoding": {
    "x": {"field": "x", "type": "quantitative", "scale": {"domain": [65, 80], "nice": false, "zero": false}, "axis": {"orient": "bottom", "values": [65,66,67,68,69,70,71,72,73,74,75,76,77,78,79,80], "tickSize": -9, "labelPadding": 21, "labelExpr": "datum.value % 5 == 0 ? datum.label : ''", "title": null}},
    "y": {"field": "y", "type": "quantitative", "scale": {"domain": [0, 1000], "nice": false, "zero": false}, "axis": {"orient": "left", "values": [0,100,200,300,400,500,600,700,800,900,1000], "format": "d", "labelExpr": "datum.value % 500 == 0 ? datum.label : ''", "tickSize": -9, "labelPadding": 26, "title": "Ba  (ppm)", "titlePadding": 26}},
    "strokeDash": {"field": "e", "type": "nominal", "scale": {"domain": ["dot","sol","dsh","tri"], "range": [[2,5],[1,0],[14,7],[8,5]]}, "legend": null},
    "order": {"field": "o", "type": "quantitative"}}},
  {"data": {"name": "pts"}, "transform": [{"filter": "datum.p == 'Ba' && indexof(['oc','os','od','ot'], datum.s) >= 0"}],
   "mark": {"type": "point", "stroke": "#222", "strokeWidth": 1.6, "opacity": 1},
   "encoding": {
    "x": {"field": "x", "type": "quantitative", "axis": {"orient": "bottom", "values": [65,70,75,80], "tickSize": -16, "labels": false, "title": null}},
    "y": {"field": "y", "type": "quantitative", "axis": {"orient": "left", "values": [0,500,1000], "tickSize": -18, "labels": false, "title": null}},
    "shape": {"field": "s", "type": "nominal", "scale": {"domain": ["oc","fc","os","fs","od","fd","ot","ft","pl","xx","as"], "range": ["circle","circle","square","square","diamond","diamond","triangle-down","triangle-down","M-1,0L1,0M0,-1L0,1","M-0.75,-0.75L0.75,0.75M-0.75,0.75L0.75,-0.75","M-1,0L1,0M-0.5,-0.87L0.5,0.87M-0.5,0.87L0.5,-0.87"]}, "legend": null},
    "fill": {"field": "s", "type": "nominal", "scale": {"domain": ["oc","fc","os","fs","od","fd","ot","ft","pl","xx","as"], "range": ["transparent","#333","transparent","#333","transparent","#333","transparent","#333","transparent","transparent","transparent"]}, "legend": null},
    "size": {"field": "s", "type": "nominal", "scale": {"type": "ordinal", "domain": ["oc","fc","os","fs","od","fd","ot","ft","pl","xx","as"], "range": [200,200,170,170,300,300,230,230,280,220,260]}, "legend": null}}},
  {"data": {"name": "pts"}, "transform": [{"filter": "datum.p == 'Ba' && indexof(['fc','fs','fd','ft'], datum.s) >= 0"}],
   "mark": {"type": "point", "stroke": "#222", "strokeWidth": 1.6, "opacity": 1},
   "encoding": {
    "x": {"field": "x", "type": "quantitative", "axis": {"orient": "top", "values": [65,66,67,68,69,70,71,72,73,74,75,76,77,78,79,80], "tickSize": -9, "labels": false, "title": null}},
    "y": {"field": "y", "type": "quantitative", "axis": {"orient": "right", "values": [0,100,200,300,400,500,600,700,800,900,1000], "tickSize": -9, "labels": false, "title": null}},
    "shape": {"field": "s", "type": "nominal", "scale": {"domain": ["oc","fc","os","fs","od","fd","ot","ft","pl","xx","as"], "range": ["circle","circle","square","square","diamond","diamond","triangle-down","triangle-down","M-1,0L1,0M0,-1L0,1","M-0.75,-0.75L0.75,0.75M-0.75,0.75L0.75,-0.75","M-1,0L1,0M-0.5,-0.87L0.5,0.87M-0.5,0.87L0.5,-0.87"]}, "legend": null},
    "fill": {"field": "s", "type": "nominal", "scale": {"domain": ["oc","fc","os","fs","od","fd","ot","ft","pl","xx","as"], "range": ["transparent","#333","transparent","#333","transparent","#333","transparent","#333","transparent","transparent","transparent"]}, "legend": null},
    "size": {"field": "s", "type": "nominal", "scale": {"type": "ordinal", "domain": ["oc","fc","os","fs","od","fd","ot","ft","pl","xx","as"], "range": [200,200,170,170,300,300,230,230,280,220,260]}, "legend": null}}},
  {"data": {"name": "pts"}, "transform": [{"filter": "datum.p == 'Ba' && indexof(['pl','xx','as'], datum.s) >= 0"}],
   "mark": {"type": "point", "stroke": "#222", "strokeWidth": 1.6, "opacity": 1},
   "encoding": {
    "x": {"field": "x", "type": "quantitative", "axis": {"orient": "top", "values": [65,70,75,80], "tickSize": -16, "labels": false, "title": null}},
    "y": {"field": "y", "type": "quantitative", "axis": {"orient": "right", "values": [0,500,1000], "tickSize": -18, "labels": false, "title": null}},
    "shape": {"field": "s", "type": "nominal", "scale": {"domain": ["oc","fc","os","fs","od","fd","ot","ft","pl","xx","as"], "range": ["circle","circle","square","square","diamond","diamond","triangle-down","triangle-down","M-1,0L1,0M0,-1L0,1","M-0.75,-0.75L0.75,0.75M-0.75,0.75L0.75,-0.75","M-1,0L1,0M-0.5,-0.87L0.5,0.87M-0.5,0.87L0.5,-0.87"]}, "legend": null},
    "fill": {"field": "s", "type": "nominal", "scale": {"domain": ["oc","fc","os","fs","od","fd","ot","ft","pl","xx","as"], "range": ["transparent","#333","transparent","#333","transparent","#333","transparent","#333","transparent","transparent","transparent"]}, "legend": null},
    "size": {"field": "s", "type": "nominal", "scale": {"type": "ordinal", "domain": ["oc","fc","os","fs","od","fd","ot","ft","pl","xx","as"], "range": [200,200,170,170,300,300,230,230,280,220,260]}, "legend": null}}}
 ]},
{"width": 503, "height": 380, "resolve": {"axis": {"x": "independent", "y": "independent"}},
 "layer": [
  {"data": {"name": "env"}, "transform": [{"filter": "datum.p == 'Na'"}],
   "mark": {"type": "line", "interpolate": "cardinal-closed", "color": "#2a2a2a", "strokeWidth": 1.4},
   "encoding": {
    "x": {"field": "x", "type": "quantitative", "scale": {"domain": [65, 80], "nice": false, "zero": false}, "axis": {"orient": "bottom", "values": [65,66,67,68,69,70,71,72,73,74,75,76,77,78,79,80], "tickSize": -9, "labelPadding": 21, "labelExpr": "datum.value % 5 == 0 ? datum.label : ''", "title": null}},
    "y": {"field": "y", "type": "quantitative", "scale": {"domain": [3, 7], "nice": false, "zero": false}, "axis": {"orient": "left", "values": [3,4,5,6,7], "format": "d", "tickSize": -9, "labelPadding": 28, "title": "Na₂O  (%)", "titlePadding": 48}},
    "strokeDash": {"field": "e", "type": "nominal", "scale": {"domain": ["dot","sol","dsh","tri"], "range": [[2,5],[1,0],[14,7],[8,5]]}, "legend": null},
    "order": {"field": "o", "type": "quantitative"}}},
  {"data": {"name": "pts"}, "transform": [{"filter": "datum.p == 'Na' && indexof(['oc','os','od','ot'], datum.s) >= 0"}],
   "mark": {"type": "point", "stroke": "#222", "strokeWidth": 1.6, "opacity": 1},
   "encoding": {
    "x": {"field": "x", "type": "quantitative", "axis": {"orient": "bottom", "values": [65,70,75,80], "tickSize": -16, "labels": false, "title": null}},
    "y": {"field": "y", "type": "quantitative", "axis": {"orient": "left", "values": [5], "tickSize": -18, "labels": false, "title": null}},
    "shape": {"field": "s", "type": "nominal", "scale": {"domain": ["oc","fc","os","fs","od","fd","ot","ft","pl","xx","as"], "range": ["circle","circle","square","square","diamond","diamond","triangle-down","triangle-down","M-1,0L1,0M0,-1L0,1","M-0.75,-0.75L0.75,0.75M-0.75,0.75L0.75,-0.75","M-1,0L1,0M-0.5,-0.87L0.5,0.87M-0.5,0.87L0.5,-0.87"]}, "legend": null},
    "fill": {"field": "s", "type": "nominal", "scale": {"domain": ["oc","fc","os","fs","od","fd","ot","ft","pl","xx","as"], "range": ["transparent","#333","transparent","#333","transparent","#333","transparent","#333","transparent","transparent","transparent"]}, "legend": null},
    "size": {"field": "s", "type": "nominal", "scale": {"type": "ordinal", "domain": ["oc","fc","os","fs","od","fd","ot","ft","pl","xx","as"], "range": [200,200,170,170,300,300,230,230,280,220,260]}, "legend": null}}},
  {"data": {"name": "pts"}, "transform": [{"filter": "datum.p == 'Na' && indexof(['fc','fs','fd','ft'], datum.s) >= 0"}],
   "mark": {"type": "point", "stroke": "#222", "strokeWidth": 1.6, "opacity": 1},
   "encoding": {
    "x": {"field": "x", "type": "quantitative", "axis": {"orient": "top", "values": [65,66,67,68,69,70,71,72,73,74,75,76,77,78,79,80], "tickSize": -9, "labels": false, "title": null}},
    "y": {"field": "y", "type": "quantitative", "axis": {"orient": "right", "values": [3,4,5,6,7], "tickSize": -9, "labels": false, "title": null}},
    "shape": {"field": "s", "type": "nominal", "scale": {"domain": ["oc","fc","os","fs","od","fd","ot","ft","pl","xx","as"], "range": ["circle","circle","square","square","diamond","diamond","triangle-down","triangle-down","M-1,0L1,0M0,-1L0,1","M-0.75,-0.75L0.75,0.75M-0.75,0.75L0.75,-0.75","M-1,0L1,0M-0.5,-0.87L0.5,0.87M-0.5,0.87L0.5,-0.87"]}, "legend": null},
    "fill": {"field": "s", "type": "nominal", "scale": {"domain": ["oc","fc","os","fs","od","fd","ot","ft","pl","xx","as"], "range": ["transparent","#333","transparent","#333","transparent","#333","transparent","#333","transparent","transparent","transparent"]}, "legend": null},
    "size": {"field": "s", "type": "nominal", "scale": {"type": "ordinal", "domain": ["oc","fc","os","fs","od","fd","ot","ft","pl","xx","as"], "range": [200,200,170,170,300,300,230,230,280,220,260]}, "legend": null}}},
  {"data": {"name": "pts"}, "transform": [{"filter": "datum.p == 'Na' && indexof(['pl','xx','as'], datum.s) >= 0"}],
   "mark": {"type": "point", "stroke": "#222", "strokeWidth": 1.6, "opacity": 1},
   "encoding": {
    "x": {"field": "x", "type": "quantitative", "axis": {"orient": "top", "values": [65,70,75,80], "tickSize": -16, "labels": false, "title": null}},
    "y": {"field": "y", "type": "quantitative", "axis": {"orient": "right", "values": [5], "tickSize": -18, "labels": false, "title": null}},
    "shape": {"field": "s", "type": "nominal", "scale": {"domain": ["oc","fc","os","fs","od","fd","ot","ft","pl","xx","as"], "range": ["circle","circle","square","square","diamond","diamond","triangle-down","triangle-down","M-1,0L1,0M0,-1L0,1","M-0.75,-0.75L0.75,0.75M-0.75,0.75L0.75,-0.75","M-1,0L1,0M-0.5,-0.87L0.5,0.87M-0.5,0.87L0.5,-0.87"]}, "legend": null},
    "fill": {"field": "s", "type": "nominal", "scale": {"domain": ["oc","fc","os","fs","od","fd","ot","ft","pl","xx","as"], "range": ["transparent","#333","transparent","#333","transparent","#333","transparent","#333","transparent","transparent","transparent"]}, "legend": null},
    "size": {"field": "s", "type": "nominal", "scale": {"type": "ordinal", "domain": ["oc","fc","os","fs","od","fd","ot","ft","pl","xx","as"], "range": [200,200,170,170,300,300,230,230,280,220,260]}, "legend": null}}}
 ]},
{"width": 503, "height": 380, "resolve": {"axis": {"x": "independent", "y": "independent"}},
 "layer": [
  {"data": {"name": "env"}, "transform": [{"filter": "datum.p == 'La'"}],
   "mark": {"type": "line", "interpolate": "cardinal-closed", "color": "#2a2a2a", "strokeWidth": 1.4},
   "encoding": {
    "x": {"field": "x", "type": "quantitative", "scale": {"domain": [65, 80], "nice": false, "zero": false}, "axis": {"orient": "bottom", "values": [65,66,67,68,69,70,71,72,73,74,75,76,77,78,79,80], "tickSize": -9, "labelPadding": 21, "labelExpr": "datum.value % 5 == 0 ? datum.label : ''", "title": null}},
    "y": {"field": "y", "type": "quantitative", "scale": {"domain": [0, 100], "nice": false, "zero": false}, "axis": {"orient": "left", "values": [0,10,20,30,40,50,60,70,80,90,100], "format": "d", "labelExpr": "datum.value % 50 == 0 ? datum.label : ''", "tickSize": -9, "labelPadding": 26, "title": "La  (ppm)", "titlePadding": 40}},
    "strokeDash": {"field": "e", "type": "nominal", "scale": {"domain": ["dot","sol","dsh","tri"], "range": [[2,5],[1,0],[14,7],[8,5]]}, "legend": null},
    "order": {"field": "o", "type": "quantitative"}}},
  {"data": {"name": "pts"}, "transform": [{"filter": "datum.p == 'La' && indexof(['oc','os','od','ot'], datum.s) >= 0"}],
   "mark": {"type": "point", "stroke": "#222", "strokeWidth": 1.6, "opacity": 1},
   "encoding": {
    "x": {"field": "x", "type": "quantitative", "axis": {"orient": "bottom", "values": [65,70,75,80], "tickSize": -16, "labels": false, "title": null}},
    "y": {"field": "y", "type": "quantitative", "axis": {"orient": "left", "values": [0,50,100], "tickSize": -18, "labels": false, "title": null}},
    "shape": {"field": "s", "type": "nominal", "scale": {"domain": ["oc","fc","os","fs","od","fd","ot","ft","pl","xx","as"], "range": ["circle","circle","square","square","diamond","diamond","triangle-down","triangle-down","M-1,0L1,0M0,-1L0,1","M-0.75,-0.75L0.75,0.75M-0.75,0.75L0.75,-0.75","M-1,0L1,0M-0.5,-0.87L0.5,0.87M-0.5,0.87L0.5,-0.87"]}, "legend": null},
    "fill": {"field": "s", "type": "nominal", "scale": {"domain": ["oc","fc","os","fs","od","fd","ot","ft","pl","xx","as"], "range": ["transparent","#333","transparent","#333","transparent","#333","transparent","#333","transparent","transparent","transparent"]}, "legend": null},
    "size": {"field": "s", "type": "nominal", "scale": {"type": "ordinal", "domain": ["oc","fc","os","fs","od","fd","ot","ft","pl","xx","as"], "range": [200,200,170,170,300,300,230,230,280,220,260]}, "legend": null}}},
  {"data": {"name": "pts"}, "transform": [{"filter": "datum.p == 'La' && indexof(['fc','fs','fd','ft'], datum.s) >= 0"}],
   "mark": {"type": "point", "stroke": "#222", "strokeWidth": 1.6, "opacity": 1},
   "encoding": {
    "x": {"field": "x", "type": "quantitative", "axis": {"orient": "top", "values": [65,66,67,68,69,70,71,72,73,74,75,76,77,78,79,80], "tickSize": -9, "labels": false, "title": null}},
    "y": {"field": "y", "type": "quantitative", "axis": {"orient": "right", "values": [0,10,20,30,40,50,60,70,80,90,100], "tickSize": -9, "labels": false, "title": null}},
    "shape": {"field": "s", "type": "nominal", "scale": {"domain": ["oc","fc","os","fs","od","fd","ot","ft","pl","xx","as"], "range": ["circle","circle","square","square","diamond","diamond","triangle-down","triangle-down","M-1,0L1,0M0,-1L0,1","M-0.75,-0.75L0.75,0.75M-0.75,0.75L0.75,-0.75","M-1,0L1,0M-0.5,-0.87L0.5,0.87M-0.5,0.87L0.5,-0.87"]}, "legend": null},
    "fill": {"field": "s", "type": "nominal", "scale": {"domain": ["oc","fc","os","fs","od","fd","ot","ft","pl","xx","as"], "range": ["transparent","#333","transparent","#333","transparent","#333","transparent","#333","transparent","transparent","transparent"]}, "legend": null},
    "size": {"field": "s", "type": "nominal", "scale": {"type": "ordinal", "domain": ["oc","fc","os","fs","od","fd","ot","ft","pl","xx","as"], "range": [200,200,170,170,300,300,230,230,280,220,260]}, "legend": null}}},
  {"data": {"name": "pts"}, "transform": [{"filter": "datum.p == 'La' && indexof(['pl','xx','as'], datum.s) >= 0"}],
   "mark": {"type": "point", "stroke": "#222", "strokeWidth": 1.6, "opacity": 1},
   "encoding": {
    "x": {"field": "x", "type": "quantitative", "axis": {"orient": "top", "values": [65,70,75,80], "tickSize": -16, "labels": false, "title": null}},
    "y": {"field": "y", "type": "quantitative", "axis": {"orient": "right", "values": [0,50,100], "tickSize": -18, "labels": false, "title": null}},
    "shape": {"field": "s", "type": "nominal", "scale": {"domain": ["oc","fc","os","fs","od","fd","ot","ft","pl","xx","as"], "range": ["circle","circle","square","square","diamond","diamond","triangle-down","triangle-down","M-1,0L1,0M0,-1L0,1","M-0.75,-0.75L0.75,0.75M-0.75,0.75L0.75,-0.75","M-1,0L1,0M-0.5,-0.87L0.5,0.87M-0.5,0.87L0.5,-0.87"]}, "legend": null},
    "fill": {"field": "s", "type": "nominal", "scale": {"domain": ["oc","fc","os","fs","od","fd","ot","ft","pl","xx","as"], "range": ["transparent","#333","transparent","#333","transparent","#333","transparent","#333","transparent","transparent","transparent"]}, "legend": null},
    "size": {"field": "s", "type": "nominal", "scale": {"type": "ordinal", "domain": ["oc","fc","os","fs","od","fd","ot","ft","pl","xx","as"], "range": [200,200,170,170,300,300,230,230,280,220,260]}, "legend": null}}}
 ]},
{"width": 503, "height": 380, "resolve": {"axis": {"x": "independent", "y": "independent"}},
 "layer": [
  {"data": {"name": "env"}, "transform": [{"filter": "datum.p == 'K'"}],
   "mark": {"type": "line", "interpolate": "cardinal-closed", "color": "#2a2a2a", "strokeWidth": 1.4},
   "encoding": {
    "x": {"field": "x", "type": "quantitative", "scale": {"domain": [65, 80], "nice": false, "zero": false}, "axis": {"orient": "bottom", "values": [65,66,67,68,69,70,71,72,73,74,75,76,77,78,79,80], "tickSize": -9, "labelPadding": 21, "labelExpr": "datum.value % 5 == 0 ? datum.label : ''", "title": "SiO₂  (%)", "titlePadding": 8}},
    "y": {"field": "y", "type": "quantitative", "scale": {"domain": [0, 7], "nice": false, "zero": false}, "axis": {"orient": "left", "values": [0,1,2,3,4,5,6,7], "format": "d", "labelExpr": "datum.value % 2 == 0 ? datum.label : ''", "tickSize": -9, "labelPadding": 28, "title": "K₂O  (%)", "titlePadding": 48}},
    "strokeDash": {"field": "e", "type": "nominal", "scale": {"domain": ["dot","sol","dsh","tri"], "range": [[2,5],[1,0],[14,7],[8,5]]}, "legend": null},
    "order": {"field": "o", "type": "quantitative"}}},
  {"data": {"name": "pts"}, "transform": [{"filter": "datum.p == 'K' && indexof(['oc','os','od','ot'], datum.s) >= 0"}],
   "mark": {"type": "point", "stroke": "#222", "strokeWidth": 1.6, "opacity": 1},
   "encoding": {
    "x": {"field": "x", "type": "quantitative", "axis": {"orient": "bottom", "values": [65,70,75,80], "tickSize": -16, "labels": false, "title": null}},
    "y": {"field": "y", "type": "quantitative", "axis": {"orient": "left", "values": [0,5], "tickSize": -18, "labels": false, "title": null}},
    "shape": {"field": "s", "type": "nominal", "scale": {"domain": ["oc","fc","os","fs","od","fd","ot","ft","pl","xx","as"], "range": ["circle","circle","square","square","diamond","diamond","triangle-down","triangle-down","M-1,0L1,0M0,-1L0,1","M-0.75,-0.75L0.75,0.75M-0.75,0.75L0.75,-0.75","M-1,0L1,0M-0.5,-0.87L0.5,0.87M-0.5,0.87L0.5,-0.87"]}, "legend": null},
    "fill": {"field": "s", "type": "nominal", "scale": {"domain": ["oc","fc","os","fs","od","fd","ot","ft","pl","xx","as"], "range": ["transparent","#333","transparent","#333","transparent","#333","transparent","#333","transparent","transparent","transparent"]}, "legend": null},
    "size": {"field": "s", "type": "nominal", "scale": {"type": "ordinal", "domain": ["oc","fc","os","fs","od","fd","ot","ft","pl","xx","as"], "range": [200,200,170,170,300,300,230,230,280,220,260]}, "legend": null}}},
  {"data": {"name": "pts"}, "transform": [{"filter": "datum.p == 'K' && indexof(['fc','fs','fd','ft'], datum.s) >= 0"}],
   "mark": {"type": "point", "stroke": "#222", "strokeWidth": 1.6, "opacity": 1},
   "encoding": {
    "x": {"field": "x", "type": "quantitative", "axis": {"orient": "top", "values": [65,66,67,68,69,70,71,72,73,74,75,76,77,78,79,80], "tickSize": -9, "labels": false, "title": null}},
    "y": {"field": "y", "type": "quantitative", "axis": {"orient": "right", "values": [0,1,2,3,4,5,6,7], "tickSize": -9, "labels": false, "title": null}},
    "shape": {"field": "s", "type": "nominal", "scale": {"domain": ["oc","fc","os","fs","od","fd","ot","ft","pl","xx","as"], "range": ["circle","circle","square","square","diamond","diamond","triangle-down","triangle-down","M-1,0L1,0M0,-1L0,1","M-0.75,-0.75L0.75,0.75M-0.75,0.75L0.75,-0.75","M-1,0L1,0M-0.5,-0.87L0.5,0.87M-0.5,0.87L0.5,-0.87"]}, "legend": null},
    "fill": {"field": "s", "type": "nominal", "scale": {"domain": ["oc","fc","os","fs","od","fd","ot","ft","pl","xx","as"], "range": ["transparent","#333","transparent","#333","transparent","#333","transparent","#333","transparent","transparent","transparent"]}, "legend": null},
    "size": {"field": "s", "type": "nominal", "scale": {"type": "ordinal", "domain": ["oc","fc","os","fs","od","fd","ot","ft","pl","xx","as"], "range": [200,200,170,170,300,300,230,230,280,220,260]}, "legend": null}}},
  {"data": {"name": "pts"}, "transform": [{"filter": "datum.p == 'K' && indexof(['pl','xx','as'], datum.s) >= 0"}],
   "mark": {"type": "point", "stroke": "#222", "strokeWidth": 1.6, "opacity": 1},
   "encoding": {
    "x": {"field": "x", "type": "quantitative", "axis": {"orient": "top", "values": [65,70,75,80], "tickSize": -16, "labels": false, "title": null}},
    "y": {"field": "y", "type": "quantitative", "axis": {"orient": "right", "values": [0,5], "tickSize": -18, "labels": false, "title": null}},
    "shape": {"field": "s", "type": "nominal", "scale": {"domain": ["oc","fc","os","fs","od","fd","ot","ft","pl","xx","as"], "range": ["circle","circle","square","square","diamond","diamond","triangle-down","triangle-down","M-1,0L1,0M0,-1L0,1","M-0.75,-0.75L0.75,0.75M-0.75,0.75L0.75,-0.75","M-1,0L1,0M-0.5,-0.87L0.5,0.87M-0.5,0.87L0.5,-0.87"]}, "legend": null},
    "fill": {"field": "s", "type": "nominal", "scale": {"domain": ["oc","fc","os","fs","od","fd","ot","ft","pl","xx","as"], "range": ["transparent","#333","transparent","#333","transparent","#333","transparent","#333","transparent","transparent","transparent"]}, "legend": null},
    "size": {"field": "s", "type": "nominal", "scale": {"type": "ordinal", "domain": ["oc","fc","os","fs","od","fd","ot","ft","pl","xx","as"], "range": [200,200,170,170,300,300,230,230,280,220,260]}, "legend": null}}}
 ]},
{"width": 503, "height": 380, "resolve": {"axis": {"x": "independent", "y": "independent"}},
 "layer": [
  {"data": {"name": "env"}, "transform": [{"filter": "datum.p == 'F'"}],
   "mark": {"type": "line", "interpolate": "cardinal-closed", "color": "#2a2a2a", "strokeWidth": 1.4},
   "encoding": {
    "x": {"field": "x", "type": "quantitative", "scale": {"domain": [65, 80], "nice": false, "zero": false}, "axis": {"orient": "bottom", "values": [65,66,67,68,69,70,71,72,73,74,75,76,77,78,79,80], "tickSize": -9, "labelPadding": 21, "labelExpr": "datum.value % 5 == 0 ? datum.label : ''", "title": "SiO₂  (%)", "titlePadding": 8}},
    "y": {"field": "y", "type": "quantitative", "scale": {"domain": [0, 1000], "nice": false, "zero": false}, "axis": {"orient": "left", "values": [0,100,200,300,400,500,600,700,800,900,1000], "format": "d", "labelExpr": "datum.value % 500 == 0 ? datum.label : ''", "tickSize": -9, "labelPadding": 26, "title": "F  (ppm)", "titlePadding": 26}},
    "strokeDash": {"field": "e", "type": "nominal", "scale": {"domain": ["dot","sol","dsh","tri"], "range": [[2,5],[1,0],[14,7],[8,5]]}, "legend": null},
    "order": {"field": "o", "type": "quantitative"}}},
  {"data": {"name": "pts"}, "transform": [{"filter": "datum.p == 'F' && indexof(['oc','os','od','ot'], datum.s) >= 0"}],
   "mark": {"type": "point", "stroke": "#222", "strokeWidth": 1.6, "opacity": 1},
   "encoding": {
    "x": {"field": "x", "type": "quantitative", "axis": {"orient": "bottom", "values": [65,70,75,80], "tickSize": -16, "labels": false, "title": null}},
    "y": {"field": "y", "type": "quantitative", "axis": {"orient": "left", "values": [0,500,1000], "tickSize": -18, "labels": false, "title": null}},
    "shape": {"field": "s", "type": "nominal", "scale": {"domain": ["oc","fc","os","fs","od","fd","ot","ft","pl","xx","as"], "range": ["circle","circle","square","square","diamond","diamond","triangle-down","triangle-down","M-1,0L1,0M0,-1L0,1","M-0.75,-0.75L0.75,0.75M-0.75,0.75L0.75,-0.75","M-1,0L1,0M-0.5,-0.87L0.5,0.87M-0.5,0.87L0.5,-0.87"]}, "legend": null},
    "fill": {"field": "s", "type": "nominal", "scale": {"domain": ["oc","fc","os","fs","od","fd","ot","ft","pl","xx","as"], "range": ["transparent","#333","transparent","#333","transparent","#333","transparent","#333","transparent","transparent","transparent"]}, "legend": null},
    "size": {"field": "s", "type": "nominal", "scale": {"type": "ordinal", "domain": ["oc","fc","os","fs","od","fd","ot","ft","pl","xx","as"], "range": [200,200,170,170,300,300,230,230,280,220,260]}, "legend": null}}},
  {"data": {"name": "pts"}, "transform": [{"filter": "datum.p == 'F' && indexof(['fc','fs','fd','ft'], datum.s) >= 0"}],
   "mark": {"type": "point", "stroke": "#222", "strokeWidth": 1.6, "opacity": 1},
   "encoding": {
    "x": {"field": "x", "type": "quantitative", "axis": {"orient": "top", "values": [65,66,67,68,69,70,71,72,73,74,75,76,77,78,79,80], "tickSize": -9, "labels": false, "title": null}},
    "y": {"field": "y", "type": "quantitative", "axis": {"orient": "right", "values": [0,100,200,300,400,500,600,700,800,900,1000], "tickSize": -9, "labels": false, "title": null}},
    "shape": {"field": "s", "type": "nominal", "scale": {"domain": ["oc","fc","os","fs","od","fd","ot","ft","pl","xx","as"], "range": ["circle","circle","square","square","diamond","diamond","triangle-down","triangle-down","M-1,0L1,0M0,-1L0,1","M-0.75,-0.75L0.75,0.75M-0.75,0.75L0.75,-0.75","M-1,0L1,0M-0.5,-0.87L0.5,0.87M-0.5,0.87L0.5,-0.87"]}, "legend": null},
    "fill": {"field": "s", "type": "nominal", "scale": {"domain": ["oc","fc","os","fs","od","fd","ot","ft","pl","xx","as"], "range": ["transparent","#333","transparent","#333","transparent","#333","transparent","#333","transparent","transparent","transparent"]}, "legend": null},
    "size": {"field": "s", "type": "nominal", "scale": {"type": "ordinal", "domain": ["oc","fc","os","fs","od","fd","ot","ft","pl","xx","as"], "range": [200,200,170,170,300,300,230,230,280,220,260]}, "legend": null}}},
  {"data": {"name": "pts"}, "transform": [{"filter": "datum.p == 'F' && indexof(['pl','xx','as'], datum.s) >= 0"}],
   "mark": {"type": "point", "stroke": "#222", "strokeWidth": 1.6, "opacity": 1},
   "encoding": {
    "x": {"field": "x", "type": "quantitative", "axis": {"orient": "top", "values": [65,70,75,80], "tickSize": -16, "labels": false, "title": null}},
    "y": {"field": "y", "type": "quantitative", "axis": {"orient": "right", "values": [0,500,1000], "tickSize": -18, "labels": false, "title": null}},
    "shape": {"field": "s", "type": "nominal", "scale": {"domain": ["oc","fc","os","fs","od","fd","ot","ft","pl","xx","as"], "range": ["circle","circle","square","square","diamond","diamond","triangle-down","triangle-down","M-1,0L1,0M0,-1L0,1","M-0.75,-0.75L0.75,0.75M-0.75,0.75L0.75,-0.75","M-1,0L1,0M-0.5,-0.87L0.5,0.87M-0.5,0.87L0.5,-0.87"]}, "legend": null},
    "fill": {"field": "s", "type": "nominal", "scale": {"domain": ["oc","fc","os","fs","od","fd","ot","ft","pl","xx","as"], "range": ["transparent","#333","transparent","#333","transparent","#333","transparent","#333","transparent","transparent","transparent"]}, "legend": null},
    "size": {"field": "s", "type": "nominal", "scale": {"type": "ordinal", "domain": ["oc","fc","os","fs","od","fd","ot","ft","pl","xx","as"], "range": [200,200,170,170,300,300,230,230,280,220,260]}, "legend": null}}}
 ]}
],
"config": {
 "view": {"stroke": "#222", "strokeWidth": 1.6},
 "axis": {"domain": false, "grid": false, "ticks": true, "tickColor": "#222", "tickWidth": 1.5, "labelFont": "Liberation Sans", "labelFontSize": 24, "labelColor": "#222", "labelFlush": false, "labelOverlap": false, "titleFont": "DejaVu Sans Mono", "titleFontSize": 29, "titleFontWeight": "normal", "titleColor": "#222"}
}
}
